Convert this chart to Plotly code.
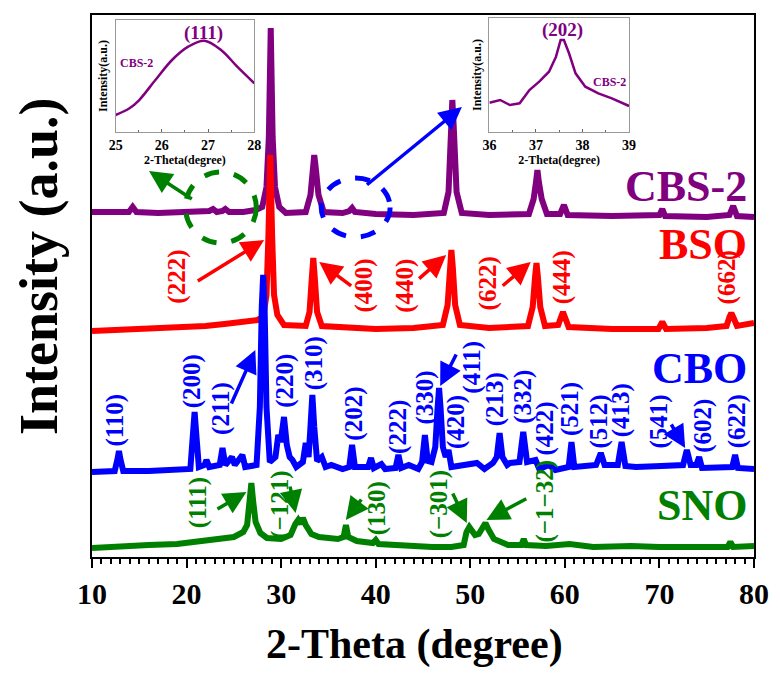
import plotly.graph_objects as go

# ---------------- data (2-theta in degrees, intensity in arbitrary offset units) -------------
cbs2_points = [(10, 345), (12, 345), (13.9, 345), (14.3, 350), (14.7, 345), (17, 344), (20, 345),
               (22.4, 346), (22.8, 348), (23.2, 345), (23.8, 346), (24.1, 348), (24.5, 345), (26, 345),
               (27.3, 347), (28.0, 350), (28.45, 370), (28.7, 420), (28.9, 529), (29.1, 420), (29.35, 370),
               (29.8, 350), (30.5, 344), (32.6, 345), (33.1, 362), (33.35, 390), (33.5, 402), (33.65, 390),
               (33.95, 362), (34.5, 345), (36.5, 344), (37.2, 346), (37.5, 349), (37.8, 345), (40, 343),
               (44, 342), (47.2, 344), (47.7, 365), (47.95, 430), (48.1, 457), (48.25, 430), (48.55, 365),
               (49.1, 344), (52, 342), (56.2, 343), (56.7, 358), (56.95, 375), (57.1, 387), (57.25, 375),
               (57.55, 358), (58.1, 343), (59.5, 343), (59.9, 352), (60.3, 342), (65, 341), (70.0, 342),
               (70.3, 348), (70.6, 341), (75, 340), (77.4, 342), (77.8, 351), (78.2, 341), (80, 340)]

bso_points = [(10, 226), (13, 227), (16, 228), (19, 229), (22, 231), (24, 233), (26, 236), (27.5, 237),
              (28.1, 240), (28.45, 262), (28.65, 320), (28.85, 402), (29.05, 320), (29.25, 262), (29.6, 242),
              (30.3, 232), (32.6, 231), (33.0, 245), (33.25, 280), (33.4, 299), (33.55, 280), (33.8, 245),
              (34.3, 231), (37, 229), (40, 228), (44, 229), (47.1, 232), (47.6, 252), (47.85, 290),
              (48.0, 307), (48.15, 290), (48.4, 252), (48.9, 232), (52, 229), (56.1, 231), (56.6, 250),
              (56.85, 280), (57.0, 294), (57.15, 280), (57.4, 250), (57.9, 231), (59.3, 232), (59.6, 240),
              (59.8, 245), (60.0, 240), (60.4, 230), (65, 228), (69.9, 228), (70.3, 235), (70.7, 228),
              (75, 229), (77.1, 231), (77.4, 240), (77.6, 244), (77.8, 240), (78.2, 231), (80, 234)]

cbo_points = [(10, 85), (12.4, 86), (12.7, 98), (12.85, 106), (13.0, 98), (13.3, 86), (16, 86), (18, 87),
              (20.4, 88), (20.65, 120), (20.85, 145), (21.05, 120), (21.3, 90), (21.9, 92), (22.1, 97),
              (22.4, 90), (23.5, 92), (23.8, 109), (24.1, 92), (24.8, 100), (25.1, 92), (25.9, 102),
              (26.2, 90), (27.4, 92), (27.75, 150), (27.95, 250), (28.1, 282), (28.25, 250), (28.45, 150),
              (28.8, 95), (29.4, 100), (29.7, 122), (29.95, 115), (30.3, 140), (30.6, 112), (30.9, 100),
              (31.2, 97), (31.6, 90), (32.3, 95), (32.6, 114), (32.9, 100), (33.1, 130), (33.3, 162),
              (33.5, 130), (33.8, 96), (34.3, 100), (34.7, 90), (35.3, 92), (36.5, 88), (37.2, 90),
              (37.5, 112), (37.8, 90), (39.2, 90), (39.5, 99), (39.8, 89), (40.6, 93), (41.0, 88),
              (42.1, 89), (42.4, 102), (42.7, 89), (43.5, 92), (44.5, 88), (44.9, 95), (45.2, 122),
              (45.5, 96), (45.9, 95), (46.3, 110), (46.55, 150), (46.7, 169), (46.85, 150), (47.1, 110),
              (47.4, 100), (47.7, 107), (48.0, 90), (50.7, 94), (51.5, 88), (52.4, 94), (52.8, 100),
              (53.1, 124), (53.4, 100), (53.9, 92), (54.2, 94), (55.2, 95), (55.6, 125), (56.0, 95),
              (56.9, 97), (57.3, 88), (58.3, 92), (59, 87), (60.4, 90), (60.7, 115), (61.0, 90),
              (62.5, 91), (63.3, 92), (63.8, 104), (64.2, 92), (65.6, 92), (66.0, 115), (66.4, 91),
              (67.5, 90), (70.2, 91), (72.5, 92), (72.9, 107), (73.3, 92), (73.9, 92), (74.2, 100),
              (74.5, 89), (76.5, 90), (77.7, 90), (78.0, 102), (78.3, 89), (80, 88)]

sno_points = [(10, 9), (13, 11), (16, 12), (19, 13), (21, 15), (23.5, 17), (25, 20), (26, 25), (26.4, 32),
              (26.65, 55), (26.85, 74), (27.05, 55), (27.3, 35), (27.8, 24), (28.5, 19), (30, 18), (31.0, 22),
              (31.5, 33), (31.8, 37), (32.05, 33), (32.3, 39), (32.6, 32), (33.2, 23), (34, 20), (36, 18),
              (36.6, 20), (36.85, 32), (37.1, 20), (38, 16), (39.7, 14), (40.0, 17), (40.3, 13), (43, 11),
              (46, 10), (48, 10), (49.3, 12), (49.6, 25), (49.9, 30), (50.2, 26), (50.5, 22), (50.9, 23),
              (51.3, 30), (51.6, 34), (51.9, 28), (52.5, 18), (54, 12), (55.4, 12), (55.65, 18), (55.9, 12),
              (58, 11), (60.5, 13), (63, 10), (67, 11), (70, 10), (74, 10), (77.2, 10), (77.5, 15),
              (77.8, 10), (80, 11)]

inset111_x = [25.0, 25.30, 25.51, 25.86, 26.22, 26.57, 26.92, 27.28, 27.63, 28.0]
inset111_y = [17, 23.7, 32, 52, 72, 85.3, 91.3, 82, 65.3, 48.7]
inset202_x = [36.0, 36.23, 36.44, 36.65, 36.86, 37.07, 37.28, 37.43, 37.53, 37.60, 37.71, 37.85,
              38.06, 38.34, 38.63, 39.0]
inset202_y = [29.3, 32, 27, 28.7, 42, 50.3, 60.3, 75.3, 92, 92, 78.7, 58.7, 45.3, 38.7, 33.7, 26]

series_names = ["CBS-2", "BSO", "CBO", "SNO"]
series_colors = ["#800080", "#FF0000", "#0000FF", "#008000"]
series_label_y = [371, 313, 189, 52]

# hkl labels: (text, 2theta, y)
bso_hkl = [("(222)", 18.95, 280), ("(400)", 38.71, 271), ("(440)", 43.08, 271), ("(622)", 51.92, 274),
           ("(444)", 59.72, 280), ("(662)", 77.19, 280)]
cbo_hkl = [("(110)", 12.39, 137), ("(200)", 20.61, 176), ("(211)", 23.63, 149), ("(220)", 30.39, 176),
           ("(310)", 33.51, 194), ("(202)", 37.67, 143), ("(222)", 42.35, 130), ("(330)", 45.26, 160),
           ("(411)", 50.15, 190), ("(420)", 48.49, 135), ("(213)", 52.65, 158), ("(332)", 55.56, 160),
           ("(422)", 57.85, 128), ("(521)", 60.55, 148), ("(512)", 63.57, 135), ("(413)", 65.96, 147),
           ("(541)", 69.91, 135), ("(602)", 74.59, 131), ("(622)", 78.23, 136)]
sno_hkl = [("(111)", 21.23, 54), ("(\u2212121)", 29.87, 52), ("(130)", 40.16, 49),
           ("(\u2212301)", 46.72, 53), ("(\u22121\u221232)", 57.85, 56)]

# arrows: (tail x, tail y, head x, head y, colour index)
arrows = [(20.71, 357, 16.03, 386, 3), (38.92, 371, 49.11, 450, 2),
          (21.03, 275, 28.20, 317, 1), (37.56, 270, 34.03, 295, 1), (44.43, 277, 47.45, 302, 1),
          (53.27, 270, 56.39, 295, 1),
          (24.67, 152, 27.27, 207, 2), (48.59, 204, 46.82, 171, 2), (71.16, 134, 72.72, 109, 2),
          (23.11, 47, 26.33, 65, 3), (30.91, 72, 31.53, 44, 3), (38.60, 59, 36.84, 37, 3),
          (48.07, 65, 49.63, 34, 3), (56.08, 59, 51.71, 37, 3)]

# dashed circles: (x0, x1, y0, y1, colour index)
circles = [(19.88, 27.37, 314, 385, 3), (34.24, 41.52, 320, 379, 2)]

FONT = "Liberation Serif"

fig = go.Figure()
for pts, name, col in zip([cbs2_points, bso_points, cbo_points, sno_points], series_names, series_colors):
    xs, ys = zip(*pts)
    fig.add_trace(go.Scatter(x=list(xs), y=list(ys), mode="lines", name=name,
                             line=dict(color=col, width=6), xaxis="x", yaxis="y", showlegend=False))

fig.add_trace(go.Scatter(x=inset111_x, y=inset111_y, mode="lines", line=dict(color="#800080", width=2.5,
                         shape="spline"), xaxis="x2", yaxis="y2", showlegend=False))
fig.add_trace(go.Scatter(x=inset202_x, y=inset202_y, mode="lines", line=dict(color="#800080", width=2.5),
                         xaxis="x3", yaxis="y3", showlegend=False))

ann = []
for name, col, yy in zip(series_names, series_colors, series_label_y):
    ann.append(dict(x=79.5, y=yy, xref="x", yref="y", text=name, showarrow=False, xanchor="right",
                    yanchor="middle", font=dict(family=FONT, size=44, color=col, weight="bold")))
for labels, col in zip([bso_hkl, cbo_hkl, sno_hkl], series_colors[1:]):
    for t, xx, yy in labels:
        ann.append(dict(x=xx, y=yy, xref="x", yref="y", text=t, showarrow=False, textangle=-90,
                        xanchor="center", yanchor="middle",
                        font=dict(family=FONT, size=25, color=col, weight="bold")))
for tx, ty, hx, hy, ci in arrows:
    ann.append(dict(x=hx, y=hy, ax=tx, ay=ty, xref="x", yref="y", axref="x", ayref="y", text="",
                    showarrow=True, arrowhead=2, arrowsize=1.3, arrowwidth=3.5, arrowcolor=series_colors[ci],
                    standoff=0, startstandoff=0))

# inset texts
ann += [
    dict(x=26.89, y=99, xref="x2", yref="y2", text="(111)", showarrow=False,
         font=dict(family=FONT, size=19, color="#800080", weight="bold")),
    dict(x=25.45, y=69, xref="x2", yref="y2", text="CBS-2", showarrow=False,
         font=dict(family=FONT, size=12, color="#800080", weight="bold")),
    dict(x=37.56, y=102, xref="x3", yref="y3", text="(202)", showarrow=False,
         font=dict(family=FONT, size=19, color="#800080", weight="bold")),
    dict(x=38.58, y=50, xref="x3", yref="y3", text="CBS-2", showarrow=False,
         font=dict(family=FONT, size=12, color="#800080", weight="bold")),
]
# main axis titles
ann += [
    dict(x=0.487, y=-0.162, xref="paper", yref="paper", text="2-Theta (degree)", showarrow=False,
         xanchor="center", yanchor="middle",
         font=dict(family=FONT, size=42, color="black", weight="bold")),
    dict(x=-0.08, y=0.537, xref="paper", yref="paper", text="Intensity (a.u.)", showarrow=False,
         xanchor="center", yanchor="middle",
         textangle=-90, font=dict(family=FONT, size=54, color="black", weight="bold")),
]

shapes = []
for x0, x1, y0, y1, ci in circles:
    shapes.append(dict(type="circle", xref="x", yref="y", x0=x0, x1=x1, y0=y0, y1=y1,
                       line=dict(color=series_colors[ci], width=5, dash="dash"), layer="above"))

inset_x_common = dict(showline=True, mirror=True, linecolor="#999999", linewidth=1, ticks="inside",
                      ticklen=3, tickcolor="#666666", showgrid=False, zeroline=False,
                      tickfont=dict(family=FONT, size=14, color="black", weight="bold"),
                      title=dict(text="2-Theta(degree)", standoff=2,
                                 font=dict(family=FONT, size=12, color="black", weight="bold")),
                      minor=dict(ticks="inside", ticklen=2, dtick=0.5, tickcolor="#666666"))
inset_y_common = dict(showline=True, mirror=True, linecolor="#999999", linewidth=1, ticks="",
                      showticklabels=False, showgrid=False, zeroline=False,
                      title=dict(text="Intensity(a.u.)", standoff=4,
                                 font=dict(family=FONT, size=12, color="black", weight="bold")))

fig.update_layout(
    width=781, height=673, autosize=False,
    margin=dict(l=92, r=16, t=15, b=116),
    paper_bgcolor="white", plot_bgcolor="white",
    xaxis=dict(range=[10, 80], dtick=10, tick0=10, ticks="outside", ticklen=9, tickwidth=2,
               tickcolor="black", showline=True, mirror=True, linecolor="black", linewidth=2,
               showgrid=False, zeroline=False,
               tickfont=dict(family=FONT, size=30, color="black", weight="bold"),
               minor=dict(ticks="outside", ticklen=5, dtick=1, tickwidth=1.5, tickcolor="black")),
    yaxis=dict(range=[0, 542], showticklabels=False, ticks="", showline=True, mirror=True,
               linecolor="black", linewidth=2, showgrid=False, zeroline=False),
    xaxis2=dict(domain=[0.0357, 0.2452], anchor="y2", range=[25, 28], dtick=1, **inset_x_common),
    yaxis2=dict(domain=[0.7841, 0.9908], anchor="x2", range=[0, 112], **inset_y_common),
    xaxis3=dict(domain=[0.6003, 0.8113], anchor="y3", range=[36, 39], dtick=1, **inset_x_common),
    yaxis3=dict(domain=[0.7841, 0.9945], anchor="x3", range=[0, 114], **inset_y_common),
    annotations=ann, shapes=shapes,
)

fig.write_html("out.html")
